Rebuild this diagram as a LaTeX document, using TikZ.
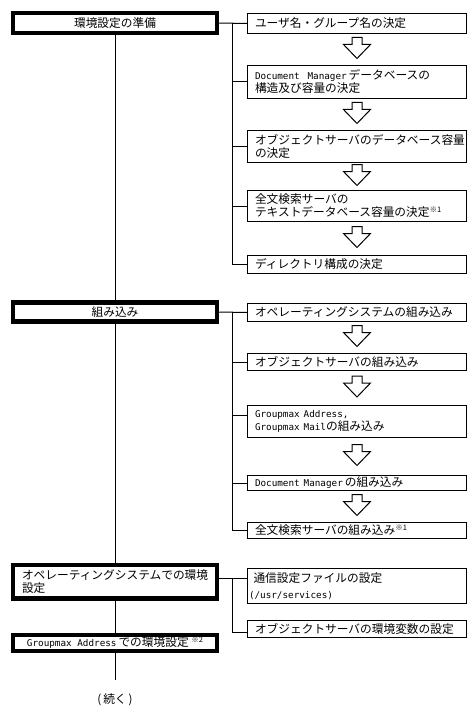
\documentclass[tikz,border=0pt]{standalone}
\usepackage{fontspec}
\setmainfont{Noto Sans CJK JP}
\newfontfamily\latmono{DejaVu Sans Mono}
\usetikzlibrary{calc}
\newcommand\lat[1]{{\latmono\fontsize{9.3}{13}\selectfont #1}}
\newcommand\supmark[1]{\raisebox{4pt}{\fontsize{7.5}{7.5}\selectfont #1}}
\begin{document}
\begin{tikzpicture}[x=1pt,y=-1pt,
  every node/.style={font=\fontsize{11.7}{13}\selectfont, inner sep=0pt},
  lbox/.style={draw, line width=4.5pt, minimum width=204pt},
  rbox/.style={draw, line width=1pt, text width=204pt, inner xsep=7.5pt, align=left, anchor=north west},
  conn/.style={line width=1pt},
  downarrow/.pic={\draw[line width=1pt, line join=miter] (-5,-10.5) -- (5,-10.5) -- (5,-3.5) -- (13.5,-3.5) -- (0,10.5) -- (-13.5,-3.5) -- (-5,-3.5) -- cycle;}
]
\useasboundingbox (0,0) rectangle (473,706);

% left column
\node[lbox, minimum height=20pt] (b1) at (115,23) {環境設定の準備};
\node[lbox, minimum height=19pt] (b2) at (115,312) {組み込み};
\node[lbox, minimum height=33.5pt, text width=186pt, inner xsep=9pt, align=left] (b3) at (115,581.75) {\mbox{オペレーティングシステムでの環境}\\設定};
\node[lbox, minimum height=16pt] (b4) at (115,643) {\lat{Groupmax Address}\,での環境設定\ \supmark{※2}};
\node (cont) at (115,700) {(\,続く\,)};
\coordinate (endpt) at (115,680);

% right column
\node[rbox, minimum height=20pt] (r1) at (247,13) {ユーザ名・グループ名の決定};
\node[rbox, minimum height=33pt] (r2) at (247,65) {\lat{Document\ \ Manager}\,データベースの\\構造及び容量の決定};
\node[rbox, minimum height=32pt] (r3) at (247,130) {\mbox{オブジェクトサーバのデータベース容量}\\の決定};
\node[rbox, minimum height=31pt] (r4) at (247,190) {全文検索サーバの\\\mbox{テキストデータベース容量の決定\supmark{※1}}};
\node[rbox, minimum height=18pt] (r5) at (247,255) {ディレクトリ構成の決定};
\node[rbox, minimum height=18pt] (r6) at (247,303) {\mbox{オペレーティングシステムの組み込み}};
\node[rbox, minimum height=17pt] (r7) at (247,353) {オブジェクトサーバの組み込み};
\node[rbox, minimum height=32pt] (r8) at (247,405) {\lat{Groupmax Address,}\\\lat{Groupmax Mail}の組み込み};
\node[rbox, minimum height=15pt] (r9) at (247,475) {\lat{Document Manager}\,の組み込み};
\node[rbox, minimum height=16pt] (r10) at (247,522) {全文検索サーバの組み込み\supmark{※1}};
\node[rbox, minimum height=35pt, inner xsep=1.5pt, text width=216pt] (r11) at (247,568) {\hspace*{4.5pt}通信設定ファイルの設定\\[3pt]\lat{(/usr/services)}};
\node[rbox, minimum height=17pt] (r12) at (247,620) {オブジェクトサーバの環境変数の設定};

% main spine
\draw[conn] (b1) -- (b2);
\draw[conn] (b2) -- (b3);
\draw[conn] (b3) -- (b4);
\draw[conn] (b4) -- (endpt);

% group 1
\coordinate (j1) at (232,23);
\draw[conn] (b1.east) -- (r1.west);
\foreach \r in {r2,r3,r4,r5} \draw[conn] (j1) |- (\r.west);

% group 2
\coordinate (j2) at (232,312);
\draw[conn] (b2.east) -- (r6.west);
\foreach \r in {r7,r9,r10} \draw[conn] (j2) |- (\r.west);
\draw[conn] (j2) |- ([yshift=6pt]r8.west);

% group 3
\coordinate (j3) at (232,578);
\draw[conn] (j3 -| b3.east) -- (j3 -| r11.west);
\draw[conn] (j3) |- ([yshift=-3pt]r12.west);

% arrows
\foreach \a/\b in {r1/r2,r2/r3,r3/r4,r4/r5,r6/r7,r7/r8,r8/r9,r9/r10}
  \pic at ($(\a.south)!.5!(\b.north)+(0,-1.5)$) {downarrow};
\end{tikzpicture}
\end{document}
